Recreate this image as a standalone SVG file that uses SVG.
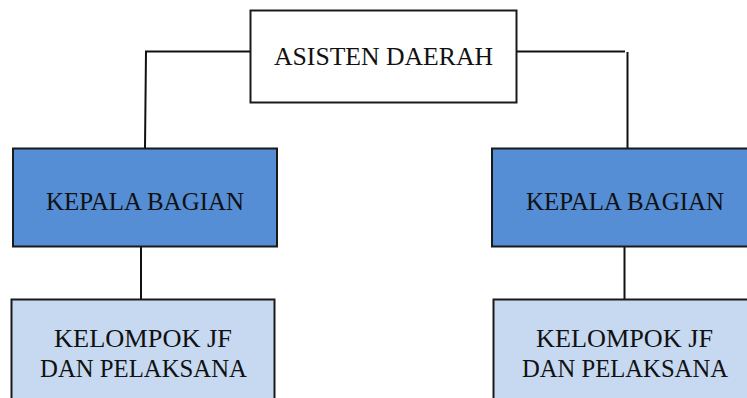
<svg xmlns="http://www.w3.org/2000/svg" width="747" height="398" viewBox="0 0 747 398">
<style>
.box{stroke:#1a1a1a;stroke-width:2}
.top{fill:#ffffff}
.kb{fill:#558ed5}
.kjf{fill:#c6d9f1}
.lbl{font-family:"Liberation Serif","Times New Roman",serif;font-size:25px;fill:#111;text-anchor:middle}
.con{fill:none;stroke:#111;stroke-width:2}
</style>
<g id="connectors">
<polyline class="con" points="250,51.5 146,51.5 145,148"/>
<line class="con" x1="517" y1="51.5" x2="625" y2="51.5"/>
<line class="con" x1="627.5" y1="52" x2="627.5" y2="148"/>
<line class="con" x1="141" y1="247" x2="141" y2="299"/>
<line class="con" x1="624.5" y1="247" x2="624.5" y2="299"/>
</g>
<g id="asisten-daerah">
<rect class="box top" x="250.5" y="10.5" width="266" height="92"/>
<text class="lbl" x="383.5" y="65" textLength="219" lengthAdjust="spacingAndGlyphs">ASISTEN DAERAH</text>
</g>
<g id="kepala-bagian-left">
<rect class="box kb" x="13" y="148.5" width="264" height="98"/>
<text class="lbl" x="145" y="210" textLength="198" lengthAdjust="spacingAndGlyphs">KEPALA BAGIAN</text>
</g>
<g id="kepala-bagian-right">
<rect class="box kb" x="492" y="148.5" width="262" height="98"/>
<text class="lbl" x="625" y="210" textLength="198" lengthAdjust="spacingAndGlyphs">KEPALA BAGIAN</text>
</g>
<g id="kelompok-left">
<rect class="box kjf" x="11.5" y="299.5" width="263" height="110"/>
<text class="lbl" x="143" y="347" textLength="178" lengthAdjust="spacingAndGlyphs">KELOMPOK JF</text>
<text class="lbl" x="143.5" y="377" textLength="207" lengthAdjust="spacingAndGlyphs">DAN PELAKSANA</text>
</g>
<g id="kelompok-right">
<rect class="box kjf" x="493.5" y="299.5" width="262" height="110"/>
<text class="lbl" x="624.5" y="347" textLength="177" lengthAdjust="spacingAndGlyphs">KELOMPOK JF</text>
<text class="lbl" x="625" y="377" textLength="206" lengthAdjust="spacingAndGlyphs">DAN PELAKSANA</text>
</g>
</svg>
